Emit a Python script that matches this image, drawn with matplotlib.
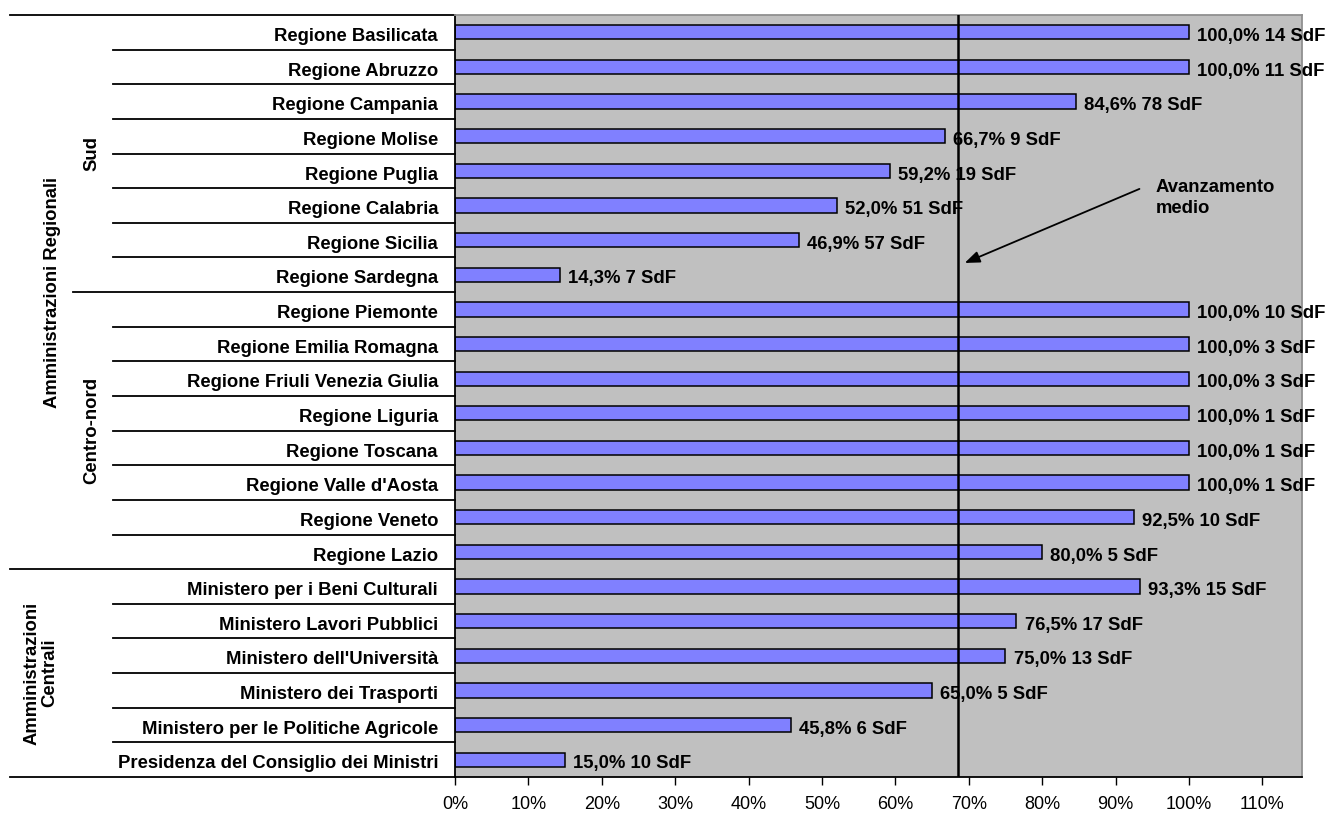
import matplotlib
matplotlib.use("Agg")
import matplotlib.pyplot as plt
import matplotlib.transforms as mtransforms
from matplotlib import font_manager

# ---------------- data ----------------
categories = [
    "Regione Basilicata", "Regione Abruzzo", "Regione Campania", "Regione Molise",
    "Regione Puglia", "Regione Calabria", "Regione Sicilia", "Regione Sardegna",
    "Regione Piemonte", "Regione Emilia Romagna", "Regione Friuli Venezia Giulia",
    "Regione Liguria", "Regione Toscana", "Regione Valle d'Aosta", "Regione Veneto",
    "Regione Lazio",
    "Ministero per i Beni Culturali", "Ministero Lavori Pubblici",
    "Ministero dell'Università", "Ministero dei Trasporti",
    "Ministero per le Politiche Agricole", "Presidenza del Consiglio dei Ministri",
]
avanzamento = [100.0, 100.0, 84.6, 66.7, 59.2, 52.0, 46.9, 14.3,
               100.0, 100.0, 100.0, 100.0, 100.0, 100.0, 92.5, 80.0,
               93.3, 76.5, 75.0, 65.0, 45.8, 15.0]
sdf = [14, 11, 78, 9, 19, 51, 57, 7,
       10, 3, 3, 1, 1, 1, 10, 5,
       15, 17, 13, 5, 6, 10]
media = 68.5
xticks = [0, 10, 20, 30, 40, 50, 60, 70, 80, 90, 100, 110]
outer_groups = [("Amministrazioni Regionali", 0, 16), ("Amministrazioni\nCentrali", 16, 22)]
inner_groups = [("Sud", 0, 8), ("Centro-nord", 8, 16)]

# ---------------- fonts ----------------
avail = {f.name for f in font_manager.fontManager.ttflist}
narrow = "Liberation Sans Narrow" if "Liberation Sans Narrow" in avail else "Liberation Sans"
plt.rcParams["font.family"] = ["Liberation Sans", "DejaVu Sans"]

W, H = 1330, 816
fig = plt.figure(figsize=(W / 100, H / 100), dpi=100)
L, R, T, B = 455, 1302, 15, 777
ax = fig.add_axes([L / W, 1 - B / H, (R - L) / W, (B - T) / H])
ax.set_facecolor("#C0C0C0")

n = len(categories)
ypos = list(range(n))
ax.barh(ypos, [v / 100 for v in avanzamento], height=0.41, color="#8080FF",
        edgecolor="black", linewidth=1.1, zorder=2)
for y, v, s in zip(ypos, avanzamento, sdf):
    lab = f"{v:.1f}".replace(".", ",") + f"% {s} SdF"
    ax.text(v / 100 + 0.011, y + 0.12, lab, ha="left", va="center",
            fontsize=13.3, fontweight="bold", zorder=4, clip_on=False)

ax.axvline(media / 100, color="black", linewidth=1.8, zorder=3)

ax.set_xlim(0, 1.154)
ax.set_ylim(n - 0.5, -0.5)
ax.set_xticks([t / 100 for t in xticks])
ax.set_xticklabels([f"{t}%" for t in xticks], fontsize=13, family=narrow)
ax.tick_params(axis="x", direction="out", length=6, width=1, pad=8, colors="black")
ax.set_yticks([])
for sp in ("left", "bottom"):
    ax.spines[sp].set_color("black")
    ax.spines[sp].set_linewidth(1.3)
for sp in ("top", "right"):
    ax.spines[sp].set_color("#909090")
    ax.spines[sp].set_linewidth(1.3)

# annotation
ax.annotate("", xy=(media / 100 + 0.006, 6.69), xytext=(0.936, 4.49),
            arrowprops=dict(arrowstyle="-|>,head_length=0.9,head_width=0.35",
                            color="black", lw=1.3), zorder=5)
ax.text(0.955, 4.78, "Avanzamento\nmedio", ha="left", va="center",
        fontsize=13.3, fontweight="bold", linespacing=1.35, zorder=5)

# ---------------- hierarchical category axis ----------------
trans = mtransforms.blended_transform_factory(ax.transAxes, ax.transData)
def fx(px):
    return (px - L) / (R - L)

outer_bounds = {-0.5, n - 0.5}
for _, a, b in outer_groups:
    outer_bounds.add(a - 0.5)
    outer_bounds.add(b - 0.5)
inner_bounds = set()
for _, a, b in inner_groups:
    inner_bounds.add(a - 0.5)
    inner_bounds.add(b - 0.5)
for i in range(n + 1):
    yb = i - 0.5
    if yb in outer_bounds:
        x0 = fx(10)
    elif yb in inner_bounds:
        x0 = fx(73)
    else:
        x0 = fx(113)
    ax.plot([x0, 0], [yb, yb], color="black", linewidth=1.3, transform=trans,
            clip_on=False, zorder=1)

for y, c in zip(ypos, categories):
    ax.text(fx(438), y + 0.12, c, ha="right", va="center", fontsize=13.3,
            fontweight="bold", transform=trans, clip_on=False)

outer_x = [53, 41]
for (name, a, b), xp in zip(outer_groups, outer_x):
    ax.text(fx(xp), (a + b - 1) / 2, name, ha="center", va="center", rotation=90,
            fontsize=13.3, fontweight="bold", transform=trans, clip_on=False,
            linespacing=1.1, multialignment="center")
for name, a, b in inner_groups:
    ax.text(fx(92), (a + b - 1) / 2, name, ha="center", va="center", rotation=90,
            fontsize=13.3, fontweight="bold", transform=trans, clip_on=False)

fig.savefig("out.png", dpi=100, facecolor="white")
